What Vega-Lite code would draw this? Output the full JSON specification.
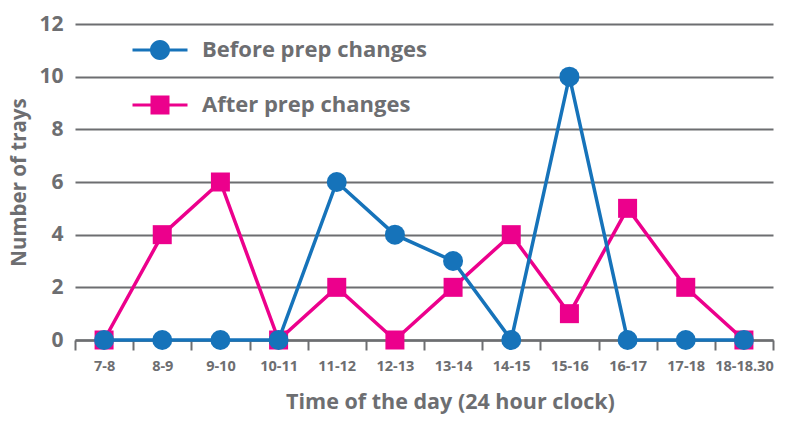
{
  "$schema": "https://vega.github.io/schema/vega-lite/v6.json",
  "width": 698,
  "height": 316,
  "autosize": {"type": "none"},
  "padding": {"left": 75, "top": 24, "right": 14, "bottom": 81},
  "background": "white",
  "config": {
    "view": {"stroke": null},
    "font": "Open Sans",
    "axis": {"labelColor": "#6d6e71", "titleColor": "#6d6e71", "labelFontWeight": "bold", "titleFontWeight": "bold"}
  },
  "data": {
    "values": [
      {"time": "7-8", "series": "Before prep changes", "value": 0},
      {"time": "8-9", "series": "Before prep changes", "value": 0},
      {"time": "9-10", "series": "Before prep changes", "value": 0},
      {"time": "10-11", "series": "Before prep changes", "value": 0},
      {"time": "11-12", "series": "Before prep changes", "value": 6},
      {"time": "12-13", "series": "Before prep changes", "value": 4},
      {"time": "13-14", "series": "Before prep changes", "value": 3},
      {"time": "14-15", "series": "Before prep changes", "value": 0},
      {"time": "15-16", "series": "Before prep changes", "value": 10},
      {"time": "16-17", "series": "Before prep changes", "value": 0},
      {"time": "17-18", "series": "Before prep changes", "value": 0},
      {"time": "18-18.30", "series": "Before prep changes", "value": 0},
      {"time": "7-8", "series": "After prep changes", "value": 0},
      {"time": "8-9", "series": "After prep changes", "value": 4},
      {"time": "9-10", "series": "After prep changes", "value": 6},
      {"time": "10-11", "series": "After prep changes", "value": 0},
      {"time": "11-12", "series": "After prep changes", "value": 2},
      {"time": "12-13", "series": "After prep changes", "value": 0},
      {"time": "13-14", "series": "After prep changes", "value": 2},
      {"time": "14-15", "series": "After prep changes", "value": 4},
      {"time": "15-16", "series": "After prep changes", "value": 1},
      {"time": "16-17", "series": "After prep changes", "value": 5},
      {"time": "17-18", "series": "After prep changes", "value": 2},
      {"time": "18-18.30", "series": "After prep changes", "value": 0}
    ]
  },
  "encoding": {
    "x": {
      "field": "time", "type": "ordinal", "bandPosition": 0.5,
      "scale": {"type": "band", "paddingInner": 0, "paddingOuter": 0,
        "domain": ["7-8","8-9","9-10","10-11","11-12","12-13","13-14","14-15","15-16","16-17","17-18","18-18.30"]},
      "axis": {
        "title": "Time of the day (24 hour clock)", "titleFontSize": 21.5, "titlePadding": 19, "titleX": 375,
        "labelAngle": 0, "labelFontSize": 14.5, "labelPadding": 9,
        "tickBand": "extent", "tickSize": 10, "tickWidth": 2, "tickColor": "#6d6e71",
        "domainColor": "#6d6e71", "domainWidth": 2.5, "grid": false
      }
    },
    "y": {
      "field": "value", "type": "quantitative",
      "scale": {"domain": [0, 12], "nice": false},
      "axis": {
        "title": "Number of trays", "titleFontSize": 20.5, "titlePadding": 9,
        "values": [0, 2, 4, 6, 8, 10, 12], "labelFontSize": 21, "labelPadding": 12,
        "ticks": false, "domain": false, "grid": true, "gridColor": "#6d6e71", "gridWidth": 2
      }
    },
    "color": {
      "field": "series", "type": "nominal",
      "scale": {"domain": ["Before prep changes", "After prep changes"], "range": ["#1673ba", "#ec008c"]},
      "legend": {
        "title": null, "orient": "none", "legendX": 74, "legendY": 15,
        "symbolSize": 400, "symbolOpacity": 1, "symbolStrokeWidth": 0,
        "labelFontSize": 22, "labelFont": "Open Sans", "labelFontWeight": "bold", "labelColor": "#6d6e71",
        "labelOffset": 31, "labelLimit": 400, "rowPadding": 33, "padding": 0,
        "encode": {
          "symbols": {
            "update": {
              "shape": {"signal": "datum.value === 'Before prep changes' ? 'M-2.75,-0.15 L2.75,-0.15 L2.75,0.15 L-2.75,0.15 Z M1,0 A1,1 0 1,1 -1,0 A1,1 0 1,1 1,0 Z' : 'M-2.75,-0.15 L2.75,-0.15 L2.75,0.15 L-2.75,0.15 Z M-0.95,-0.95 L0.95,-0.95 L0.95,0.95 L-0.95,0.95 Z'"},
              "fill": {"signal": "datum.value === 'Before prep changes' ? '#1673ba' : '#ec008c'"},
              "strokeWidth": {"value": 0},
              "opacity": {"value": 1}
            }
          }
        }
      }
    }
  },
  "layer": [
    {
      "transform": [{"filter": "datum.series === 'After prep changes'"}],
      "mark": {"type": "line", "strokeWidth": 3.5, "color": "#ee1c84"}
    },
    {
      "transform": [{"filter": "datum.series === 'After prep changes'"}],
      "mark": {"type": "point", "shape": "square", "filled": true, "opacity": 1, "size": 361, "strokeWidth": 0}
    },
    {
      "transform": [{"filter": "datum.series === 'Before prep changes'"}],
      "mark": {"type": "line", "strokeWidth": 3.5}
    },
    {
      "transform": [{"filter": "datum.series === 'Before prep changes'"}],
      "mark": {"type": "point", "shape": "circle", "filled": true, "opacity": 1, "size": 400, "strokeWidth": 0}
    }
  ]
}
